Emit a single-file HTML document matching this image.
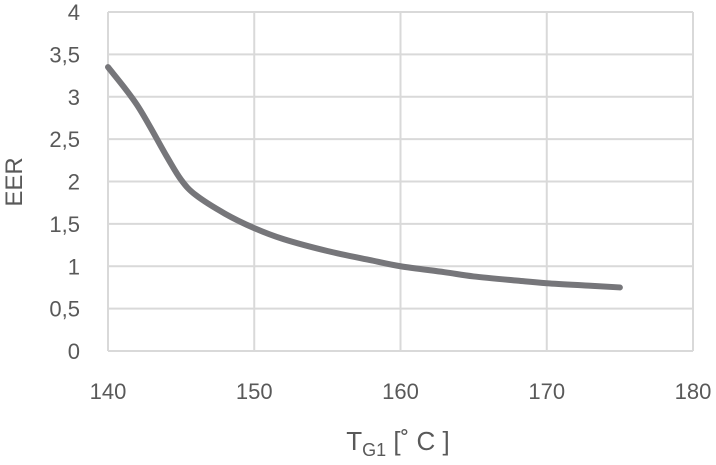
<!DOCTYPE html>
<html><head><meta charset="utf-8"><style>
html,body{margin:0;padding:0;background:#fff;}
svg text{font-family:"Liberation Sans",sans-serif;fill:#595959;}
</style></head><body>
<svg id="chart" width="716" height="460"></svg>
<script>
const xTicks=[140,150,160,170,180];
const yTicks=[0,0.5,1,1.5,2,2.5,3,3.5,4];
const yTickLabels=["0","0,5","1","1,5","2","2,5","3","3,5","4"];
const temps=[140,142,144,145,146,148,150,152,155,158,160,163,165,168,170,173,175];
const eer=[3.35,2.9,2.3,2.02,1.84,1.62,1.45,1.32,1.18,1.07,1.0,0.93,0.88,0.83,0.8,0.77,0.75];
const svg=document.getElementById('chart');
const NS='http://www.w3.org/2000/svg';
const X0=108,X1=693,Y0=351,Y1=12;
function xs(v){return X0+(v-140)/(180-140)*(X1-X0);}
function ys(v){return Y0-(v/4)*(Y0-Y1);}
function mk(t,a){const e=document.createElementNS(NS,t);for(const k in a)e.setAttribute(k,a[k]);svg.appendChild(e);return e;}
yTicks.forEach((v,i)=>{
 const l=mk('line',{x1:X0,x2:X1,y1:ys(v),y2:ys(v),stroke:'#d9d9d9','stroke-width':2});
 
 
 const t=mk('text',{x:80,y:ys(v)+8,'text-anchor':'end','font-size':22});
 t.textContent=yTickLabels[i];
 
 
});
xTicks.forEach(v=>{
 const l=mk('line',{x1:xs(v),x2:xs(v),y1:Y1,y2:Y0,stroke:'#d9d9d9','stroke-width':2});
 
 
 const t=mk('text',{x:xs(v),y:399,'text-anchor':'middle','font-size':22});
 t.textContent=v;
 
 
});
const pts=temps.map((t,i)=>[xs(t),ys(eer[i])]);
let d='M'+pts[0][0]+','+pts[0][1];
for(let i=0;i<pts.length-1;i++){
 const p0=pts[i-1]||pts[i],p1=pts[i],p2=pts[i+1],p3=pts[i+2]||p2;
 const c1=[p1[0]+(p2[0]-p0[0])/6,p1[1]+(p2[1]-p0[1])/6];
 const c2=[p2[0]-(p3[0]-p1[0])/6,p2[1]-(p3[1]-p1[1])/6];
 d+=` C${c1[0]},${c1[1]} ${c2[0]},${c2[1]} ${p2[0]},${p2[1]}`;
}
const path=mk('path',{d:d,fill:'none',stroke:'#76767a','stroke-width':6,'stroke-linecap':'round'});


const yt=mk('text',{x:0,y:0,'font-size':24,'text-anchor':'middle',transform:'translate(22,182) rotate(-90)'});
yt.textContent='EER';


const xt=mk('text',{x:398,y:450,'font-size':26,'text-anchor':'middle'});
xt.innerHTML='T<tspan font-size="18" dy="6">G1</tspan><tspan dy="-6"> [˚ C ]</tspan>';


</script>
</body></html>
